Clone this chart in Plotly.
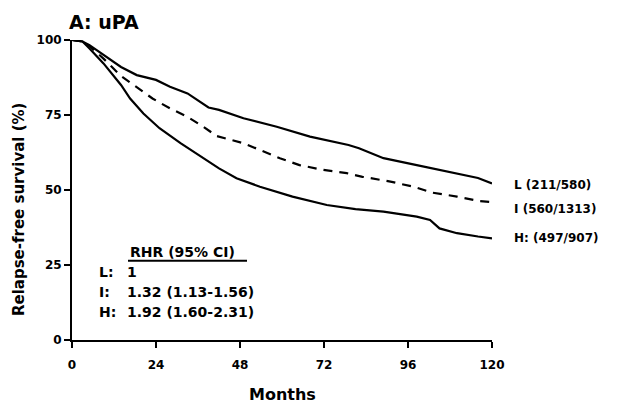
import plotly.graph_objects as go

# ---- data ----
months_L = [0, 3, 5, 9, 14, 18.5, 24, 28, 33, 39, 42, 49, 58.5, 68, 79, 82, 89, 98.5, 108, 116, 120]
surv_L = [100, 99.5, 98.3, 95, 91, 88.3, 86.7, 84.4, 82.2, 77.5, 76.7, 73.9, 71.1, 67.8, 65, 63.9, 60.6, 58.3, 56.1, 54, 52.2]

months_I = [0, 3, 5, 9, 14, 18.5, 23, 28, 33, 37.5, 41.3, 49, 53.7, 59.4, 65, 71.8, 78.5, 83, 91, 97.5, 103, 110, 116.5, 120]
surv_I = [100, 99.5, 98, 93.8, 88, 84.4, 80.5, 77.2, 74.4, 71.1, 68, 65.6, 63.3, 60.6, 58.3, 56.7, 55.6, 54.4, 52.8, 51.1, 49.1, 47.8, 46.3, 46]

months_H = [0, 3, 5, 9, 14, 16.6, 20.4, 25, 31, 37.5, 42, 47, 53.7, 63, 72.8, 81, 89, 98.5, 102.3, 105, 110, 116, 120]
surv_H = [100, 99.5, 97.2, 92.2, 85, 80.5, 75.5, 70.6, 65.6, 60.6, 57.2, 53.9, 51.1, 47.8, 45, 43.6, 42.8, 41.1, 40, 37.2, 35.6, 34.5, 33.9]

group_labels = ["L (211/580)", "I (560/1313)", "H: (497/907)"]
rhr_header = "RHR (95% CI)"
rhr_groups = ["L:", "I:", "H:"]
rhr_values = ["1", "1.32 (1.13-1.56)", "1.92 (1.60-2.31)"]

x_ticks = [0, 24, 48, 72, 96, 120]
y_ticks = [0, 25, 50, 75, 100]

FONT = "DejaVu Sans"

fig = go.Figure()
fig.add_trace(go.Scatter(x=months_L, y=surv_L, mode="lines",
                         line=dict(color="black", width=2.2), cliponaxis=False))
fig.add_trace(go.Scatter(x=months_I, y=surv_I, mode="lines",
                         line=dict(color="black", width=2.2, dash="9px,7px"), cliponaxis=False))
fig.add_trace(go.Scatter(x=months_H, y=surv_H, mode="lines",
                         line=dict(color="black", width=2.2), cliponaxis=False))

ann = []
# end labels (paper coords, right of plot)
for lab, yp in zip(group_labels, [0.5167, 0.4367, 0.34]):
    ann.append(dict(x=1.048, y=yp, xref="paper", yref="paper", text="<b>%s</b>" % lab,
                    showarrow=False, xanchor="left", yanchor="middle",
                    font=dict(family=FONT, size=12, color="black")))
# RHR block
ann.append(dict(x=16, y=29.3, xref="x", yref="y", text="<b>%s</b>" % rhr_header,
                showarrow=False, xanchor="left", yanchor="middle",
                font=dict(family=FONT, size=14, color="black")))
for g, v, yv in zip(rhr_groups, rhr_values, [22.8, 16.1, 9.4]):
    ann.append(dict(x=7.1, y=yv, xref="x", yref="y", text="<b>%s</b>" % g,
                    showarrow=False, xanchor="left", yanchor="middle",
                    font=dict(family=FONT, size=14, color="black")))
    ann.append(dict(x=15.1, y=yv, xref="x", yref="y", text="<b>%s</b>" % v,
                    showarrow=False, xanchor="left", yanchor="middle",
                    font=dict(family=FONT, size=14, color="black")))
# titles
ann.append(dict(x=-0.0119, y=1.06, xref="paper", yref="paper", text="<b>A: uPA</b>",
                showarrow=False, xanchor="left", yanchor="middle",
                font=dict(family=FONT, size=19, color="black")))
ann.append(dict(x=0.5, y=-0.1833, xref="paper", yref="paper", text="<b>Months</b>",
                showarrow=False, xanchor="center", yanchor="middle",
                font=dict(family=FONT, size=16, color="black")))
ann.append(dict(x=-0.126, y=0.4333, xref="paper", yref="paper",
                text="<b>Relapse-free survival (%)</b>", textangle=-90,
                showarrow=False, xanchor="center", yanchor="middle",
                font=dict(family=FONT, size=15, color="black")))

fig.update_layout(
    width=617, height=405,
    margin=dict(l=64, r=133, t=32, b=73),
    paper_bgcolor="white", plot_bgcolor="white",
    showlegend=False,
    annotations=ann,
    shapes=[dict(type="line", xref="x", yref="y", x0=16, x1=50, y0=26.4, y1=26.4,
                 line=dict(color="black", width=2))],
    xaxis=dict(range=[0, 120], tickvals=x_ticks, ticktext=["<b>%d</b>" % t for t in x_ticks],
               showgrid=False, zeroline=False, showline=True, linecolor="black", linewidth=2,
               ticks="outside", ticklen=6, tickwidth=2, tickcolor="black",
               ticklabelstandoff=7,
               tickfont=dict(family=FONT, size=12, color="black")),
    yaxis=dict(range=[0, 100], tickvals=y_ticks, ticktext=["<b>%d</b>" % t for t in y_ticks],
               showgrid=False, zeroline=False, showline=True, linecolor="black", linewidth=2,
               ticks="outside", ticklen=6, tickwidth=2, tickcolor="black",
               tickfont=dict(family=FONT, size=12, color="black")),
)

fig.write_html("out.html")
